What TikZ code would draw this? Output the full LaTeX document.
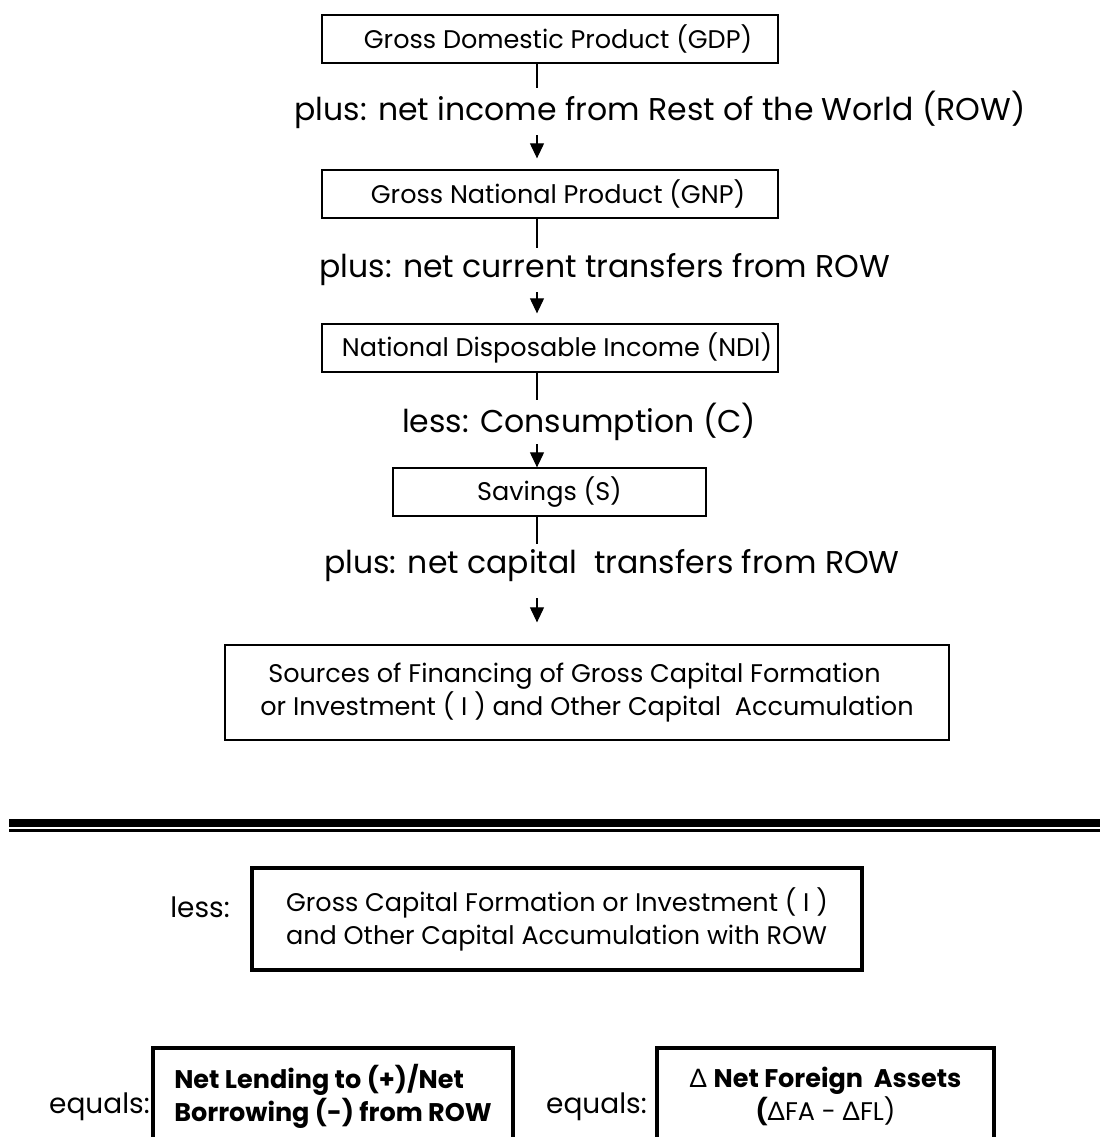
\documentclass[tikz,border=0pt]{standalone}
\usepackage{fontspec}
\setmainfont{Poppins}
\newfontfamily\deltafont{Lato}
\usetikzlibrary{arrows.meta}

\newcommand{\boxtext}{\fontsize{25.5bp}{33bp}\selectfont}
\newcommand{\steptext}{\fontsize{31.5bp}{36bp}\selectfont}
\newcommand{\sidetext}{\fontsize{28bp}{32bp}\selectfont}
\newcommand{\dlt}{{\deltafont Δ}}

\tikzset{
  box/.style={draw, line width=1.3bp, inner sep=0pt, font=\boxtext},
  heavybox/.style={draw, line width=3.5bp, inner sep=0pt, font=\boxtext, align=center},
  steplabel/.style={font=\steptext, inner sep=0pt, minimum height=44bp},
  sidelabel/.style={font=\sidetext, inner sep=0pt},
  flow/.style={line width=1.1bp},
  flowarrow/.style={flow, -{Triangle[length=15bp, width=14bp]}},
}

\begin{document}
\begin{tikzpicture}[x=1bp, y=-1bp]
    \useasboundingbox (0,0) rectangle (1100,1137);
    \clip (0,0) rectangle (1100,1137);
    \coordinate (spine) at (537,0);

    % income chain
    \node[box, minimum width=456bp, minimum height=48bp] (gdp) at (550,39) {\hspace{16bp}Gross Domestic Product (GDP)};
    \node[steplabel] (lbl1) at (660,110) {plus: net income from Rest of the World (ROW)};
    \node[box, minimum width=456bp, minimum height=48bp] (gnp) at (550,194) {\hspace{16bp}Gross National Product (GNP)};
    \node[steplabel] (lbl2) at (605,270) {plus: net current transfers from ROW};
    \node[box, minimum width=456bp, minimum height=48bp] (ndi) at (550,348) {\hspace{14bp}National Disposable Income (NDI)};
    \node[steplabel] (lbl3) at (579,422) {less: Consumption (C)};
    \node[box, minimum width=313bp, minimum height=48bp] (sav) at (549.5,492) {Savings (S)};
    \node[steplabel] (lbl4) at (612,566) {plus: net capital~ transfers from ROW};
    \node[box, minimum width=724bp, minimum height=95bp, align=left] (src) at (587,692.5)
      {\hspace{8bp}Sources of Financing of Gross Capital Formation\\or Investment ( I ) and Other Capital~ Accumulation};

    \draw[flow] (gdp.south -| spine) -- (lbl1.north -| spine);
    \draw[flowarrow, shorten <=3bp, shorten >=11bp] (lbl1.south -| spine) -- (gnp.north -| spine);
    \draw[flow] (gnp.south -| spine) -- (lbl2.north -| spine);
    \draw[flowarrow, shorten >=10bp] (lbl2.south -| spine) -- (ndi.north -| spine);
    \draw[flow] (ndi.south -| spine) -- (lbl3.north -| spine);
    \draw[flowarrow] (lbl3.south -| spine) -- (sav.north -| spine);
    \draw[flow] (sav.south -| spine) -- (lbl4.north -| spine);
    \draw[flowarrow, shorten <=10bp, shorten >=22bp] (lbl4.south -| spine) -- (src.north -| spine);

    % separator
    \draw[line width=8bp] (9,823) -- (1100,823);
    \draw[line width=3bp] (9,830.5) -- (1100,830.5);

    % capital account
    \node[sidelabel] (less) at (200,907) {less:};
    \node[heavybox, minimum width=610bp, minimum height=102bp, align=left] (gcf) at (557,919)
      {Gross Capital Formation or Investment ( I )\\and Other Capital Accumulation with ROW};

    \node[sidelabel] (eq1) at (99.5,1107) {equals:};
    \node[heavybox, minimum width=360bp, minimum height=96bp, align=left] (lend) at (333,1096)
      {\textbf{Net Lending to (+)/Net}\\\textbf{Borrowing (-) from ROW}};
    \node[sidelabel] (eq2) at (596.5,1107) {equals:};
    \node[heavybox, minimum width=337bp, minimum height=96bp] (nfa) at (825.5,1096)
      {\dlt\ \textbf{Net Foreign~ Assets}\\\textbf{(}\dlt FA - \dlt FL)};
\end{tikzpicture}
\end{document}
